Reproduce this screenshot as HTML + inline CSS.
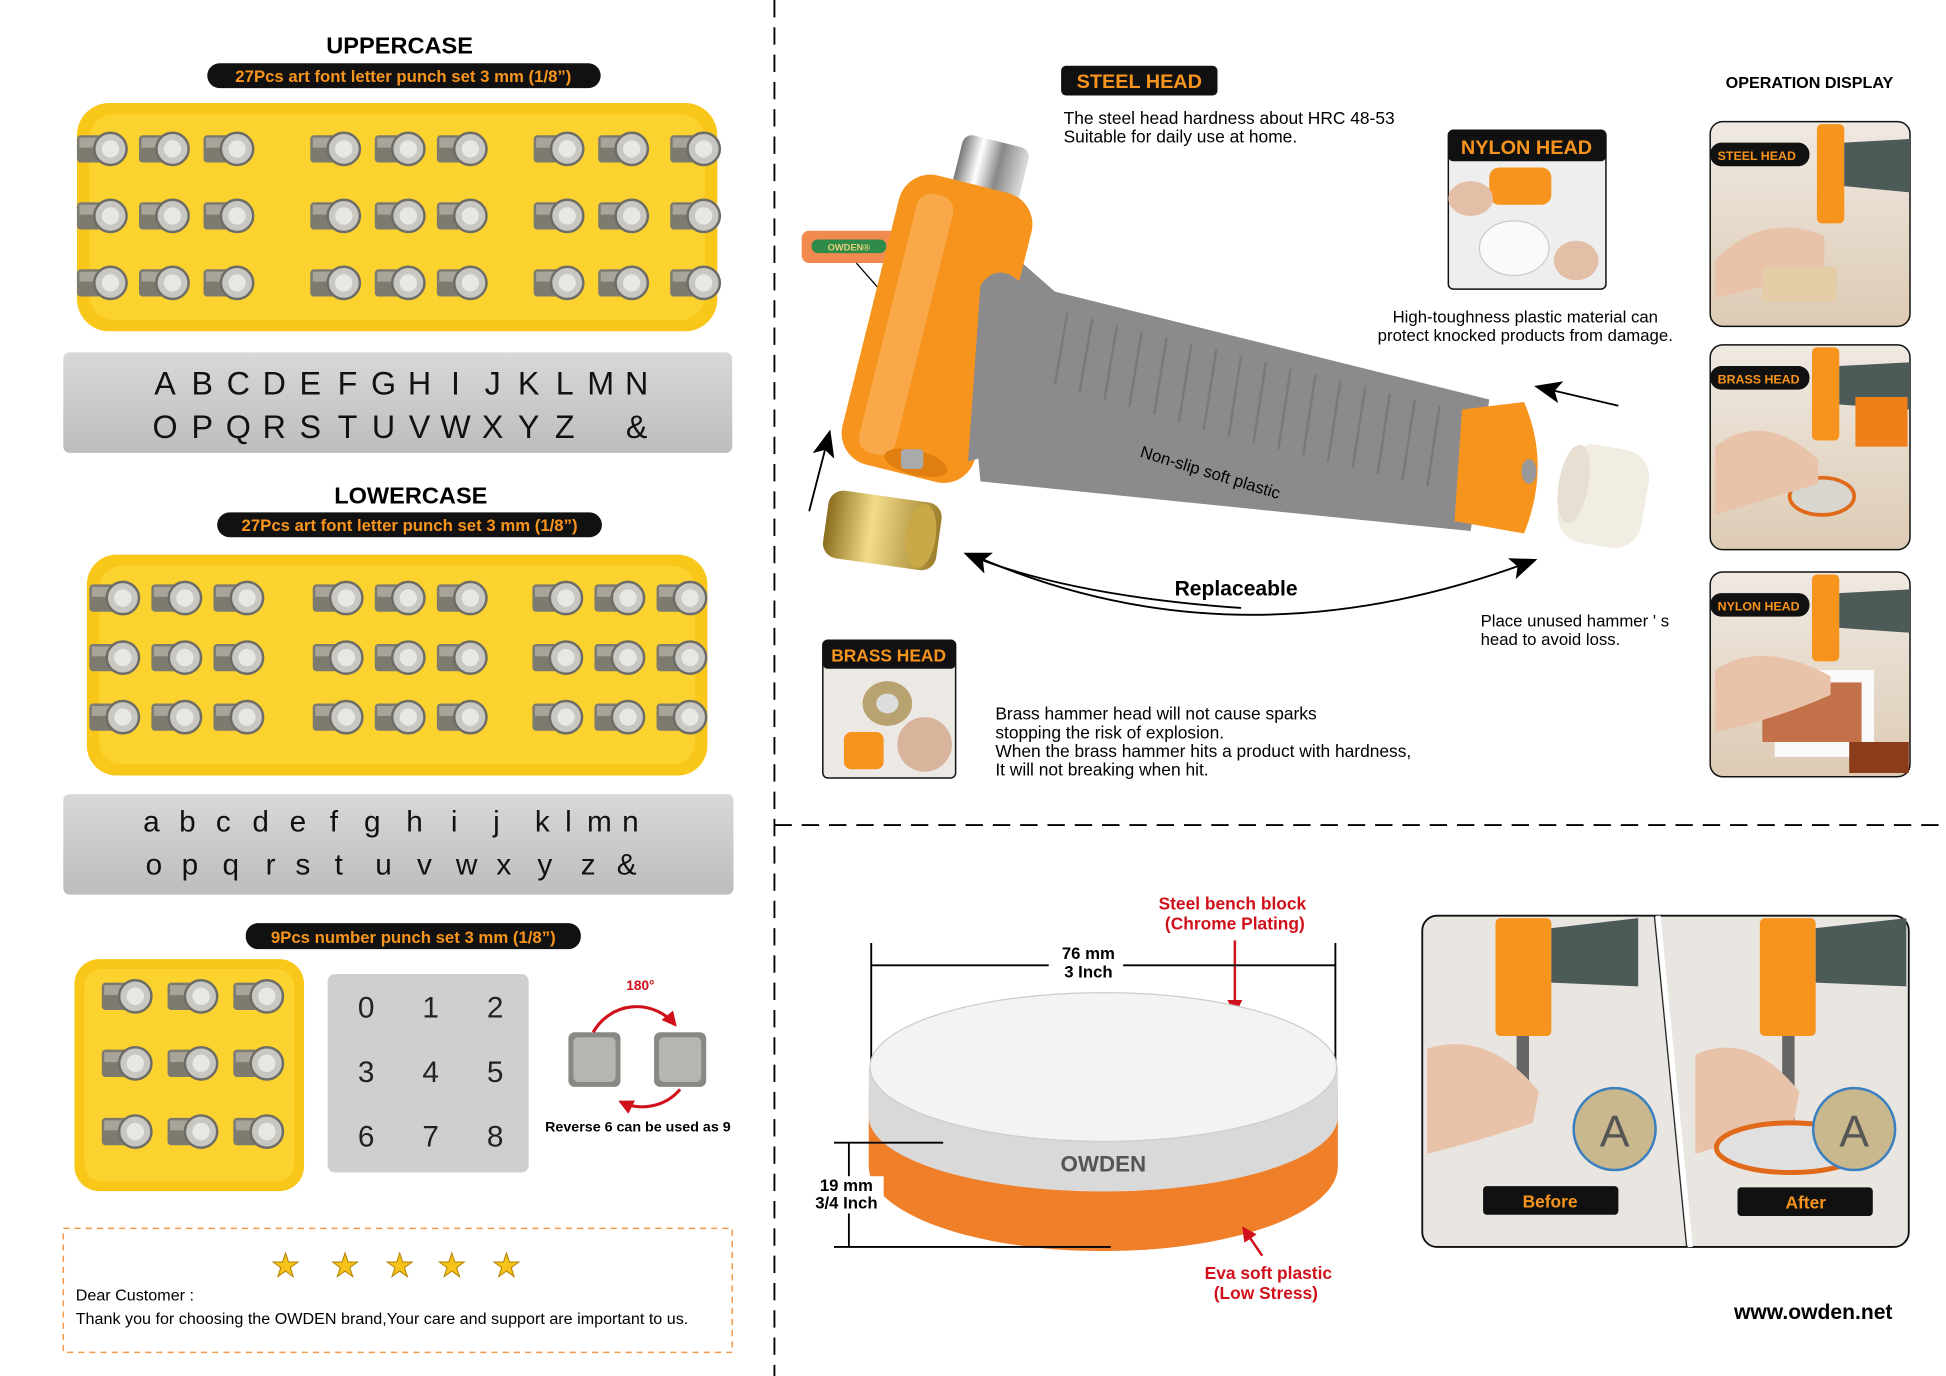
<!DOCTYPE html>
<html><head><meta charset="utf-8"><style>
html,body{margin:0;padding:0;background:#fff;width:1946px;height:1376px;overflow:hidden}
svg{display:block}
text{font-family:"Liberation Sans",Arial,sans-serif}
</style></head><body>
<svg width="1946" height="1376" viewBox="0 0 1568 1109" preserveAspectRatio="none" xmlns="http://www.w3.org/2000/svg">
<defs>
<symbol id="p" viewBox="0 0 40 34" overflow="visible">
<rect x="0" y="6" width="28" height="22" rx="3" fill="#7d7a70"/>
<rect x="2" y="8" width="24" height="8" fill="#a8a49a"/>
<circle cx="27" cy="17" r="13" fill="#c9c7c2" stroke="#6e6c66" stroke-width="2"/>
<circle cx="27" cy="17" r="7" fill="#e8e7e4"/>
</symbol>
<linearGradient id="steel" x1="0" y1="0" x2="0" y2="1"><stop offset="0" stop-color="#d8d8d8"/><stop offset="1" stop-color="#bdbdbd"/></linearGradient>
<linearGradient id="brass" x1="0" y1="0" x2="1" y2="0"><stop offset="0" stop-color="#8a6d1e"/><stop offset=".4" stop-color="#f2dc8a"/><stop offset="1" stop-color="#9c7d2a"/></linearGradient>
<linearGradient id="chrome" x1="0" y1="0" x2="1" y2="0"><stop offset="0" stop-color="#777"/><stop offset=".3" stop-color="#fff"/><stop offset=".6" stop-color="#888"/><stop offset="1" stop-color="#ddd"/></linearGradient>
<linearGradient id="photo" x1="0" y1="0" x2="0" y2="1"><stop offset="0" stop-color="#efe9e2"/><stop offset="1" stop-color="#ddcbb4"/></linearGradient>
<marker id="ar" markerWidth="12" markerHeight="12" refX="10" refY="6" orient="auto" markerUnits="userSpaceOnUse"><path d="M0,0 L12,6 L0,12 z" fill="#d0101a"/></marker>
<marker id="aw" markerWidth="22" markerHeight="18" refX="18" refY="9" orient="auto" markerUnits="userSpaceOnUse"><path d="M0,0 L22,9 L0,18 L5,9 z" fill="#000"/></marker>
</defs>

<line x1="624" y1="0" x2="624" y2="1109" stroke="#000" stroke-width="1.5" stroke-dasharray="14,8"/>
<line x1="624" y1="665" x2="1568" y2="665" stroke="#000" stroke-width="1.5" stroke-dasharray="14,8"/>

<!-- UPPERCASE -->
<text x="322" y="43" font-size="19" font-weight="bold" text-anchor="middle">UPPERCASE</text>
<rect x="167" y="51" width="317" height="20" rx="10" fill="#111"/>
<text x="325" y="66" font-size="13.5" font-weight="bold" fill="#f7941d" text-anchor="middle">27Pcs art font letter punch set  3 mm (1/8”)</text>
<rect x="62" y="83" width="516" height="184" rx="26" fill="#f9c71a"/>
<rect x="72" y="92" width="496" height="166" rx="20" fill="#fcd22e"/>
<g>
<use href="#p" x="62" y="103" width="40" height="34"/><use href="#p" x="112" y="103" width="40" height="34"/><use href="#p" x="164" y="103" width="40" height="34"/>
<use href="#p" x="250" y="103" width="40" height="34"/><use href="#p" x="302" y="103" width="40" height="34"/><use href="#p" x="352" y="103" width="40" height="34"/>
<use href="#p" x="430" y="103" width="40" height="34"/><use href="#p" x="482" y="103" width="40" height="34"/><use href="#p" x="540" y="103" width="40" height="34"/>
<use href="#p" x="62" y="157" width="40" height="34"/><use href="#p" x="112" y="157" width="40" height="34"/><use href="#p" x="164" y="157" width="40" height="34"/>
<use href="#p" x="250" y="157" width="40" height="34"/><use href="#p" x="302" y="157" width="40" height="34"/><use href="#p" x="352" y="157" width="40" height="34"/>
<use href="#p" x="430" y="157" width="40" height="34"/><use href="#p" x="482" y="157" width="40" height="34"/><use href="#p" x="540" y="157" width="40" height="34"/>
<use href="#p" x="62" y="211" width="40" height="34"/><use href="#p" x="112" y="211" width="40" height="34"/><use href="#p" x="164" y="211" width="40" height="34"/>
<use href="#p" x="250" y="211" width="40" height="34"/><use href="#p" x="302" y="211" width="40" height="34"/><use href="#p" x="352" y="211" width="40" height="34"/>
<use href="#p" x="430" y="211" width="40" height="34"/><use href="#p" x="482" y="211" width="40" height="34"/><use href="#p" x="540" y="211" width="40" height="34"/>
</g>
<rect x="51" y="284" width="539" height="81" rx="5" fill="url(#steel)"/>
<g font-size="26" text-anchor="middle" fill="#111">
<g transform="translate(0,318)">
<text x="133">A</text><text x="163">B</text><text x="192">C</text><text x="221">D</text><text x="250">E</text><text x="280">F</text><text x="309">G</text><text x="338">H</text><text x="367">I</text><text x="397">J</text><text x="426">K</text><text x="455">L</text><text x="484">M</text><text x="513">N</text>
</g>
<g transform="translate(0,353)">
<text x="133">O</text><text x="163">P</text><text x="192">Q</text><text x="221">R</text><text x="250">S</text><text x="280">T</text><text x="309">U</text><text x="338">V</text><text x="367">W</text><text x="397">X</text><text x="426">Y</text><text x="455">Z</text><text x="513">&amp;</text>
</g>
</g>

<!-- LOWERCASE -->
<text x="331" y="406" font-size="19" font-weight="bold" text-anchor="middle">LOWERCASE</text>
<rect x="175" y="413" width="310" height="20" rx="10" fill="#111"/>
<text x="330" y="428" font-size="13.5" font-weight="bold" fill="#f7941d" text-anchor="middle">27Pcs art font letter punch set  3 mm (1/8”)</text>
<rect x="70" y="447" width="500" height="178" rx="24" fill="#f9c71a"/>
<rect x="80" y="456" width="480" height="160" rx="18" fill="#fcd22e"/>
<g>
<use href="#p" x="72" y="465" width="40" height="34"/><use href="#p" x="122" y="465" width="40" height="34"/><use href="#p" x="172" y="465" width="40" height="34"/>
<use href="#p" x="252" y="465" width="40" height="34"/><use href="#p" x="302" y="465" width="40" height="34"/><use href="#p" x="352" y="465" width="40" height="34"/>
<use href="#p" x="429" y="465" width="40" height="34"/><use href="#p" x="479" y="465" width="40" height="34"/><use href="#p" x="529" y="465" width="40" height="34"/>
<use href="#p" x="72" y="513" width="40" height="34"/><use href="#p" x="122" y="513" width="40" height="34"/><use href="#p" x="172" y="513" width="40" height="34"/>
<use href="#p" x="252" y="513" width="40" height="34"/><use href="#p" x="302" y="513" width="40" height="34"/><use href="#p" x="352" y="513" width="40" height="34"/>
<use href="#p" x="429" y="513" width="40" height="34"/><use href="#p" x="479" y="513" width="40" height="34"/><use href="#p" x="529" y="513" width="40" height="34"/>
<use href="#p" x="72" y="561" width="40" height="34"/><use href="#p" x="122" y="561" width="40" height="34"/><use href="#p" x="172" y="561" width="40" height="34"/>
<use href="#p" x="252" y="561" width="40" height="34"/><use href="#p" x="302" y="561" width="40" height="34"/><use href="#p" x="352" y="561" width="40" height="34"/>
<use href="#p" x="429" y="561" width="40" height="34"/><use href="#p" x="479" y="561" width="40" height="34"/><use href="#p" x="529" y="561" width="40" height="34"/>
</g>
<rect x="51" y="640" width="540" height="81" rx="5" fill="url(#steel)"/>
<g font-size="24" text-anchor="middle" fill="#111">
<g transform="translate(0,670)">
<text x="122">a</text><text x="151">b</text><text x="180">c</text><text x="210">d</text><text x="240">e</text><text x="269">f</text><text x="300">g</text><text x="334">h</text><text x="366">i</text><text x="400">j</text><text x="437">k</text><text x="458">l</text><text x="483">m</text><text x="508">n</text>
</g>
<g transform="translate(0,705)">
<text x="124">o</text><text x="153">p</text><text x="186">q</text><text x="218">r</text><text x="244">s</text><text x="273">t</text><text x="309">u</text><text x="342">v</text><text x="376">w</text><text x="406">x</text><text x="439">y</text><text x="474">z</text><text x="505">&amp;</text>
</g>
</g>

<!-- numbers -->
<rect x="198" y="744" width="270" height="21" rx="10" fill="#111"/>
<text x="333" y="760" font-size="13.5" font-weight="bold" fill="#f7941d" text-anchor="middle">9Pcs number punch set  3 mm (1/8”)</text>
<rect x="60" y="773" width="185" height="187" rx="20" fill="#f9c71a"/>
<rect x="68" y="781" width="169" height="171" rx="14" fill="#fcd22e"/>
<use href="#p" x="82" y="786" width="40" height="34"/><use href="#p" x="135" y="786" width="40" height="34"/><use href="#p" x="188" y="786" width="40" height="34"/>
<use href="#p" x="82" y="840" width="40" height="34"/><use href="#p" x="135" y="840" width="40" height="34"/><use href="#p" x="188" y="840" width="40" height="34"/>
<use href="#p" x="82" y="895" width="40" height="34"/><use href="#p" x="135" y="895" width="40" height="34"/><use href="#p" x="188" y="895" width="40" height="34"/>
<rect x="264" y="785" width="162" height="160" rx="6" fill="#cfcfcf"/>
<g font-size="24" text-anchor="middle" fill="#222">
<text x="295" y="820">0</text><text x="347" y="820">1</text><text x="399" y="820">2</text>
<text x="295" y="872">3</text><text x="347" y="872">4</text><text x="399" y="872">5</text>
<text x="295" y="924">6</text><text x="347" y="924">7</text><text x="399" y="924">8</text>
</g>
<text x="516" y="798" font-size="11" font-weight="bold" fill="#d0101a" text-anchor="middle">180°</text>
<rect x="458" y="832" width="42" height="44" rx="5" fill="#8a8884"/><rect x="462" y="836" width="34" height="36" rx="4" fill="#b7b5b1"/>
<rect x="527" y="832" width="42" height="44" rx="5" fill="#8a8884"/><rect x="531" y="836" width="34" height="36" rx="4" fill="#b7b5b1"/>
<path d="M478,832 A40,40 0 0 1 544,826" fill="none" stroke="#d0101a" stroke-width="2.5" marker-end="url(#ar)"/>
<path d="M548,878 A40,40 0 0 1 500,888" fill="none" stroke="#d0101a" stroke-width="2.5" marker-end="url(#ar)"/>
<text x="514" y="912" font-size="11.5" font-weight="bold" text-anchor="middle">Reverse 6 can be used as 9</text>

<rect x="51" y="990" width="539" height="100" fill="none" stroke="#f39a4c" stroke-width="1.2" stroke-dasharray="5,4"/>
<g font-size="26" fill="#f7c31a" stroke="#b08000" stroke-width=".8" text-anchor="middle">
<text x="230" y="1029">★</text><text x="278" y="1029">★</text><text x="322" y="1029">★</text><text x="364" y="1029">★</text><text x="408" y="1029">★</text>
</g>
<text x="61" y="1048" font-size="13">Dear Customer :</text>
<text x="61" y="1067" font-size="13">Thank you for choosing the OWDEN brand,Your care and support are important to us.</text>

<!-- hammer section -->
<rect x="855" y="53" width="126" height="24" rx="4" fill="#111"/>
<text x="918" y="71" font-size="16" font-weight="bold" fill="#f7941d" text-anchor="middle">STEEL HEAD</text>
<text x="857" y="100" font-size="14">The steel head hardness about HRC 48-53</text>
<text x="857" y="115" font-size="14">Suitable for daily use at home.</text>
<text x="1458" y="71" font-size="13" font-weight="bold" text-anchor="middle">OPERATION DISPLAY</text>

<rect x="1167" y="105" width="127" height="128" rx="4" fill="#eee" stroke="#111" stroke-width="1.2"/>
<rect x="1167" y="105" width="127" height="25" rx="4" fill="#111"/>
<text x="1230" y="124" font-size="16" font-weight="bold" fill="#f7941d" text-anchor="middle">NYLON HEAD</text>
<rect x="1200" y="135" width="50" height="30" rx="8" fill="#f7941d"/>
<ellipse cx="1220" cy="200" rx="28" ry="22" fill="#fafafa" stroke="#ccc"/>
<ellipse cx="1185" cy="160" rx="18" ry="14" fill="#e4bfa8"/>
<ellipse cx="1270" cy="210" rx="18" ry="16" fill="#e4bfa8"/>
<text x="1229" y="260" font-size="13.5" text-anchor="middle">High-toughness plastic material can</text>
<text x="1229" y="275" font-size="13.5" text-anchor="middle">protect knocked products from damage.</text>

<rect x="646" y="186" width="76" height="26" rx="6" fill="#f08a4e"/>
<rect x="654" y="193" width="60" height="11" rx="5" fill="#2e8b4a"/>
<text x="684" y="202" font-size="7.5" font-weight="bold" fill="#e6d27a" text-anchor="middle">OWDEN®</text>
<line x1="690" y1="212" x2="712" y2="237" stroke="#000" stroke-width="1"/>

<!-- hammer -->
<g>
<path d="M770,165 L850,235 L1200,322 L1185,428 L790,388 Z" fill="#8b8b8d"/>
<g stroke="#7a7a7c" stroke-width="2">
<line x1="860" y1="252" x2="850" y2="310"/><line x1="880" y1="257" x2="870" y2="316"/><line x1="900" y1="262" x2="890" y2="322"/><line x1="920" y1="267" x2="910" y2="328"/><line x1="940" y1="272" x2="930" y2="334"/><line x1="960" y1="277" x2="950" y2="340"/><line x1="980" y1="282" x2="970" y2="346"/><line x1="1000" y1="287" x2="990" y2="352"/><line x1="1020" y1="292" x2="1010" y2="357"/><line x1="1040" y1="297" x2="1030" y2="362"/><line x1="1060" y1="302" x2="1050" y2="367"/><line x1="1080" y1="307" x2="1070" y2="372"/><line x1="1100" y1="312" x2="1090" y2="377"/><line x1="1120" y1="317" x2="1110" y2="382"/><line x1="1140" y1="322" x2="1130" y2="387"/><line x1="1160" y1="327" x2="1150" y2="392"/>
</g>
<path d="M1178,330 L1228,324 Q1250,375 1228,430 L1172,420 Z" fill="#f7941d"/>
<ellipse cx="1232" cy="380" rx="6" ry="10" fill="#999"/>
<rect x="770" y="113" width="55" height="55" rx="8" fill="url(#chrome)" transform="rotate(14 797 140)"/>
<rect x="700" y="145" width="110" height="240" rx="26" fill="#f7941d" transform="rotate(14 755 265)"/>
<rect x="715" y="160" width="30" height="215" rx="12" fill="#f9a94a" transform="rotate(14 755 265)"/>
<path d="M790,230 Q800,215 815,222 L840,240 L805,365 L780,372 Z" fill="#8b8b8d"/>
<ellipse cx="738" cy="373" rx="26" ry="10" fill="#e07f10" transform="rotate(14 738 373)"/>
<rect x="726" y="362" width="18" height="16" rx="3" fill="#aaa"/>
</g>
<text x="918" y="368" font-size="13.5" transform="rotate(17 918 368)">Non-slip soft plastic</text>
<rect x="665" y="400" width="92" height="55" rx="12" fill="url(#brass)" transform="rotate(8 711 427)"/>
<ellipse cx="742" cy="432" rx="12" ry="26" fill="#c9a848" transform="rotate(8 742 432)"/>
<rect x="1258" y="360" width="68" height="80" rx="22" fill="#f2ede3" transform="rotate(10 1292 400)"/>
<ellipse cx="1268" cy="390" rx="12" ry="32" fill="#e6dfd2" transform="rotate(10 1268 390)"/>
<line x1="652" y1="412" x2="668" y2="350" stroke="#000" stroke-width="1.5" marker-end="url(#aw)"/>
<line x1="1304" y1="327" x2="1240" y2="312" stroke="#000" stroke-width="1.5" marker-end="url(#aw)"/>
<path d="M790,450 Q1000,540 1235,452" fill="none" stroke="#000" stroke-width="1.5" marker-end="url(#aw)"/>
<path d="M1000,490 Q860,480 780,447" fill="none" stroke="#000" stroke-width="1.5" marker-end="url(#aw)"/>
<text x="996" y="480" font-size="17" font-weight="bold" text-anchor="middle">Replaceable</text>
<text x="1193" y="505" font-size="13.5">Place unused hammer ' s</text>
<text x="1193" y="520" font-size="13.5">head to avoid loss.</text>

<rect x="663" y="516" width="107" height="111" rx="4" fill="#ece8e4" stroke="#111" stroke-width="1.2"/>
<rect x="663" y="516" width="107" height="23" rx="4" fill="#111"/>
<text x="716" y="533" font-size="14" font-weight="bold" fill="#f7941d" text-anchor="middle">BRASS HEAD</text>
<ellipse cx="715" cy="567" rx="20" ry="18" fill="#b8a270"/>
<ellipse cx="715" cy="567" rx="9" ry="8" fill="#ddd"/>
<rect x="680" y="590" width="32" height="30" rx="6" fill="#f7941d"/>
<ellipse cx="745" cy="600" rx="22" ry="22" fill="#d9b49c"/>
<text x="802" y="580" font-size="14">Brass hammer head will not cause sparks</text>
<text x="802" y="595" font-size="14">stopping the risk of explosion.</text>
<text x="802" y="610" font-size="14">When the brass hammer hits a product with hardness,</text>
<text x="802" y="625" font-size="14">It will not breaking when hit.</text>

<g>
<rect x="1378" y="98" width="161" height="165" rx="10" fill="url(#photo)" stroke="#111" stroke-width="1.2"/>
<rect x="1464" y="100" width="22" height="80" rx="4" fill="#f7941d"/><path d="M1486,115 L1539,112 L1539,155 L1486,150 Z" fill="#4c5a58"/>
<path d="M1382,210 Q1420,170 1470,190 L1470,215 Q1430,230 1382,240 Z" fill="#e8c3aa"/>
<rect x="1420" y="215" width="60" height="28" fill="#e3cca6"/>
<rect x="1378" y="115" width="80" height="19" rx="9" fill="#111"/>
<text x="1384" y="129" font-size="10" font-weight="bold" fill="#f7941d">STEEL HEAD</text>

<rect x="1378" y="278" width="161" height="165" rx="10" fill="url(#photo)" stroke="#111" stroke-width="1.2"/>
<rect x="1460" y="280" width="22" height="75" rx="4" fill="#f7941d"/><path d="M1482,295 L1539,292 L1539,330 L1482,326 Z" fill="#4c5a58"/>
<rect x="1495" y="320" width="42" height="40" fill="#f07f1a"/>
<ellipse cx="1468" cy="400" rx="26" ry="15" fill="#d9d5cf" stroke="#e06a1a" stroke-width="3"/>
<path d="M1382,360 Q1420,330 1465,370 L1465,390 Q1430,400 1382,415 Z" fill="#e8c3aa"/>
<rect x="1378" y="295" width="80" height="19" rx="9" fill="#111"/>
<text x="1384" y="309" font-size="10" font-weight="bold" fill="#f7941d">BRASS HEAD</text>

<rect x="1378" y="461" width="161" height="165" rx="10" fill="url(#photo)" stroke="#111" stroke-width="1.2"/>
<rect x="1460" y="463" width="22" height="70" rx="4" fill="#f7941d"/><path d="M1482,478 L1539,475 L1539,510 L1482,506 Z" fill="#4c5a58"/>
<rect x="1430" y="540" width="80" height="70" fill="#fafafa"/>
<rect x="1420" y="550" width="80" height="48" fill="#c27148"/>
<rect x="1490" y="598" width="48" height="25" fill="#8b3c1a"/>
<path d="M1382,540 Q1420,515 1475,545 L1475,560 Q1430,580 1382,590 Z" fill="#e8c3aa"/>
<rect x="1378" y="478" width="80" height="19" rx="9" fill="#111"/>
<text x="1384" y="492" font-size="10" font-weight="bold" fill="#f7941d">NYLON HEAD</text>
</g>

<!-- bench block -->
<text x="993" y="733" font-size="14" font-weight="bold" fill="#d0101a" text-anchor="middle">Steel bench block</text>
<text x="995" y="749" font-size="14" font-weight="bold" fill="#d0101a" text-anchor="middle">(Chrome Plating)</text>
<line x1="995" y1="758" x2="995" y2="816" stroke="#d0101a" stroke-width="2" marker-end="url(#ar)"/>
<line x1="702" y1="760" x2="702" y2="860" stroke="#000" stroke-width="1.5"/>
<line x1="1076" y1="760" x2="1076" y2="860" stroke="#000" stroke-width="1.5"/>
<line x1="702" y1="778" x2="1076" y2="778" stroke="#000" stroke-width="1.5"/>
<rect x="845" y="762" width="60" height="30" fill="#fff"/>
<text x="877" y="773" font-size="13.5" font-weight="bold" text-anchor="middle">76 mm</text>
<text x="877" y="788" font-size="13.5" font-weight="bold" text-anchor="middle">3 Inch</text>
<path d="M700,880 L700,940 A188,68 0 0 0 1078,940 L1078,880 Z" fill="#f07f2a"/>
<path d="M700,860 L700,900 A188,60 0 0 0 1078,900 L1078,860 Z" fill="#d9d9d9"/>
<ellipse cx="889" cy="860" rx="188" ry="60" fill="#f3f3f3" stroke="#ccc"/>
<text x="889" y="944" font-size="18" font-weight="bold" fill="#555" text-anchor="middle">OWDEN</text>
<line x1="672" y1="921" x2="760" y2="921" stroke="#000" stroke-width="1.5"/>
<line x1="672" y1="1005" x2="895" y2="1005" stroke="#000" stroke-width="1.5"/>
<line x1="684" y1="921" x2="684" y2="1005" stroke="#000" stroke-width="1.5"/>
<rect x="652" y="948" width="60" height="30" fill="#fff"/>
<text x="682" y="960" font-size="13.5" font-weight="bold" text-anchor="middle">19 mm</text>
<text x="682" y="974" font-size="13.5" font-weight="bold" text-anchor="middle">3/4 Inch</text>
<line x1="1017" y1="1012" x2="1002" y2="990" stroke="#d0101a" stroke-width="2" marker-end="url(#ar)"/>
<text x="1022" y="1031" font-size="14" font-weight="bold" fill="#d0101a" text-anchor="middle">Eva soft plastic</text>
<text x="1020" y="1047" font-size="14" font-weight="bold" fill="#d0101a" text-anchor="middle">(Low Stress)</text>

<rect x="1146" y="738" width="392" height="267" rx="12" fill="#e9e6e2" stroke="#111" stroke-width="1.5"/>
<rect x="1205" y="740" width="45" height="95" rx="4" fill="#f7941d"/><path d="M1250,748 L1320,740 L1320,795 L1250,792 Z" fill="#4c5a58"/>
<rect x="1418" y="740" width="45" height="95" rx="4" fill="#f7941d"/><path d="M1463,748 L1536,740 L1536,795 L1463,792 Z" fill="#4c5a58"/>
<rect x="1222" y="835" width="10" height="70" fill="#666"/><rect x="1436" y="835" width="10" height="70" fill="#666"/>
<path d="M1150,845 Q1200,830 1240,880 L1235,905 Q1190,920 1150,930 Z" fill="#e8c3aa"/>
<path d="M1366,850 Q1410,830 1450,880 L1445,905 Q1400,920 1366,930 Z" fill="#e8c3aa"/>
<circle cx="1301" cy="910" r="33" fill="#c9b78e" stroke="#3a7fc0" stroke-width="2"/>
<text x="1301" y="924" font-size="36" fill="#555" text-anchor="middle">A</text>
<ellipse cx="1443" cy="925" rx="60" ry="20" fill="#e0e0e0" stroke="#e06a1a" stroke-width="4"/>
<circle cx="1494" cy="910" r="33" fill="#c9b78e" stroke="#3a7fc0" stroke-width="2"/>
<text x="1494" y="924" font-size="36" fill="#555" text-anchor="middle">A</text>
<line x1="1336" y1="738" x2="1362" y2="1005" stroke="#fff" stroke-width="4"/>
<line x1="1333" y1="738" x2="1359" y2="1005" stroke="#222" stroke-width="1"/>
<rect x="1195" y="956" width="109" height="23" rx="3" fill="#111"/>
<text x="1249" y="973" font-size="14" font-weight="bold" fill="#f7941d" text-anchor="middle">Before</text>
<rect x="1400" y="957" width="109" height="23" rx="3" fill="#111"/>
<text x="1455" y="974" font-size="14" font-weight="bold" fill="#f7941d" text-anchor="middle">After</text>

<text x="1461" y="1063" font-size="17" font-weight="bold" text-anchor="middle">www.owden.net</text>
</svg>
</body></html>
